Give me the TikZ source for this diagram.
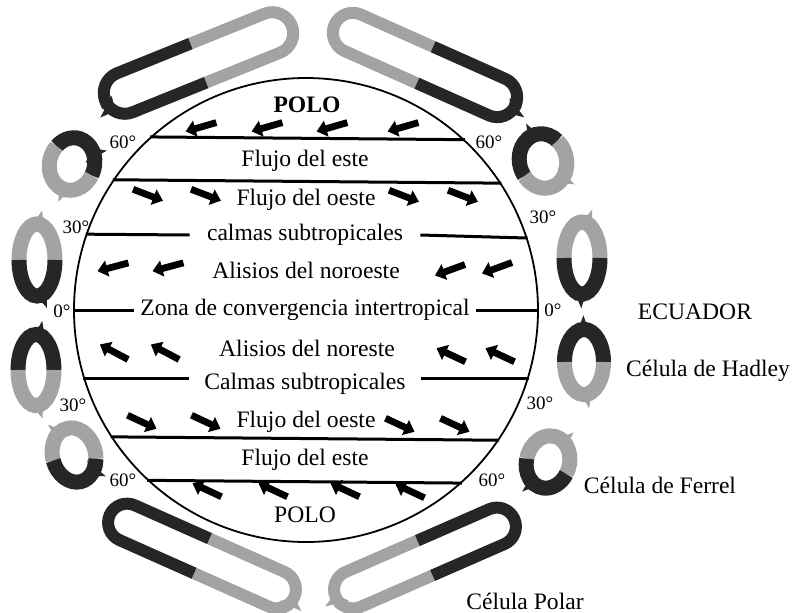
\documentclass[tikz,border=0pt]{standalone}
\usepackage{fontspec}
\setmainfont{Liberation Serif}
\usepackage{xcolor}
\usepackage{tikz}
\usetikzlibrary{arrows.meta}

\definecolor{celldark}{HTML}{262626}
\definecolor{cellgray}{HTML}{A3A3A3}

\newcommand{\ringarc}[5]{%
  \draw[#1, line width=7.5pt] (#4:#2 and #3) arc[start angle=#4, end angle=#5, x radius=#2, y radius=#3];}

\begin{document}
\begin{tikzpicture}[
  x=0.5pt, y=0.5pt,
  globe/.style={draw, circle, line width=0.9pt, minimum size=232pt, inner sep=0pt},
  lat/.style={line width=1.5pt},
  band/.style={font=\fontsize{11.8}{14}\selectfont, inner sep=1.5pt},
  calm/.style={band, inner xsep=8.5pt},
  deg/.style={font=\fontsize{9.5}{11}\selectfont, inner sep=0pt},
  tag/.style={font=\fontsize{11.8}{14}\selectfont, inner sep=0pt},
  wind/.style={line width=3.4pt, -{Triangle[length=5pt, width=8pt]}},
  darkring/.style={draw=celldark, line width=6pt},
  grayring/.style={draw=cellgray, line width=6pt},
  barb/.style={-{Triangle[length=5pt, width=12pt]}}
]
\useasboundingbox (-306,-302) rectangle (487,310);

\node[globe] (earth) at (0,0) {};

\node[band, font=\fontsize{11.8}{14}\selectfont\bfseries] (poleN) at (1,205) {POLO};
\node[band] (eastN) at (-1,149) {Flujo del este};
\node[band] (westN) at (0,110) {Flujo del oeste};
\node[calm] (calmN) at (-1,75) {calmas subtropicales};
\node[band] (tradeN) at (0,40) {Alisios del noroeste};
\node[band, inner xsep=3pt] (itcz) at (-1,0) {Zona de convergencia intertropical};
\node[band] (tradeS) at (1,-38) {Alisios del noreste};
\node[calm, inner xsep=7.5pt] (calmS) at (-1,-74) {Calmas subtropicales};
\node[band] (westS) at (0,-112) {Flujo del oeste};
\node[band] (eastS) at (-1,-150) {Flujo del este};
\node[band] (poleS) at (-1,-205) {POLO};

\draw[lat] (earth.132.5) -- (earth.47.5);
\draw[lat] (earth.146.5) -- (earth.33.5);
\draw[lat] (earth.161.1) -- (calmN.west);
\draw[lat] (calmN.east) -- (earth.18.9);
\draw[lat] (earth.180) -- (itcz.west);
\draw[lat] (itcz.east) -- (earth.0);
\draw[lat] (earth.197) -- (calmS.west |- earth.197);
\draw[lat] (calmS.east |- earth.343) -- (earth.343);
\draw[lat] (earth.213.8) -- (earth.326.2);
\draw[lat] (earth.227.5) -- (earth.312.5);

\foreach \x/\y/\a in {-105/183/196, -39/183/196, 26/183/196, 97/183/196,
    -158/115/-21, -100/115/-21, 98/114/-21, 157/114/-21,
    -193/43/195, -138/43/195, 144/40/200, 191/42/200,
    -192/-42/152, -141/-42/152, 145/-45/155, 194/-45/155,
    -164/-112/-25, -100/-112/-25, 94/-115/-25, 149/-115/-25,
    -99/-180/155, -33/-180/155, 39/-180/155, 104/-181/155}
  \draw[wind] (\x,\y) ++(\a+180:16) -- ++(\a:32);

\node[deg] (d60nw) at (-183,168) {60°};
\node[deg] (d60ne) at (183,168) {60°};
\node[deg] (d30nw) at (-230,83) {30°};
\node[deg] (d30ne) at (237,93) {30°};
\node[deg] (d0w) at (-244,-1) {0°};
\node[deg] (d0e) at (247,0) {0°};
\node[deg] (d30sw) at (-233,-95) {30°};
\node[deg] (d30se) at (234,-93) {30°};
\node[deg] (d60sw) at (-183,-170) {60°};
\node[deg] (d60se) at (186,-170) {60°};

\node[tag] (ecuador) at (389,-2) {ECUADOR};
\node[tag] (hadley) at (402,-61) {Célula de Hadley};
\node[tag] (ferrel) at (354,-175) {Célula de Ferrel};
\node[tag] (polar) at (219,-291) {Célula Polar};

\begin{scope}[shift={(-107.5,247)}, rotate=22]
  \draw[darkring] (0,21) -- (-79.5,21) arc[start angle=90, end angle=270, radius=21] -- (0,-21);
  \draw[grayring] (0,-21) -- (79.5,-21) arc[start angle=-90, end angle=90, radius=21] -- (0,21);
  \draw[darkring, barb] (-79.5,0) ++(170:21) arc[start angle=170, end angle=220, radius=21];
\end{scope}
\begin{scope}[shift={(119,245)}, rotate=-24]
  \draw[grayring] (0,20) -- (-79,20) arc[start angle=90, end angle=270, radius=20] -- (0,-20);
  \draw[darkring] (0,-20) -- (79,-20) arc[start angle=-90, end angle=90, radius=20] -- (0,20);
  \draw[darkring, barb] (79,0) ++(10:20) arc[start angle=10, end angle=-30, radius=20];
\end{scope}
\begin{scope}[shift={(-104,-246)}, rotate=-24]
  \draw[darkring] (0,19) -- (-82,19) arc[start angle=90, end angle=270, radius=19] -- (0,-19);
  \draw[grayring] (0,-19) -- (82,-19) arc[start angle=-90, end angle=90, radius=19] -- (0,19);
  \draw[grayring, barb] (82,0) ++(-45:19) arc[start angle=-45, end angle=0, radius=19];
\end{scope}
\begin{scope}[shift={(119,-248)}, rotate=23.6]
  \draw[grayring] (0,19) -- (-78.5,19) arc[start angle=90, end angle=270, radius=19] -- (0,-19);
  \draw[darkring] (0,-19) -- (78.5,-19) arc[start angle=-90, end angle=90, radius=19] -- (0,19);
  \draw[grayring, barb] (-78.5,0) ++(215:19) arc[start angle=215, end angle=170, radius=19];
\end{scope}

\begin{scope}[shift={(-234,146)}, rotate=-15]
  \ringarc{darkring}{22.5}{26.5}{-13}{150}
  \ringarc{grayring}{22.5}{26.5}{150}{347}
  \ringarc{darkring, barb}{22.5}{26.5}{20}{50}
  \ringarc{grayring, barb}{22.5}{26.5}{250}{280}
\end{scope}
\begin{scope}[shift={(-269,50)}]
  \ringarc{grayring}{18}{36}{0}{180}
  \ringarc{darkring}{18}{36}{180}{360}
  \ringarc{grayring, barb}{18}{36}{100}{70}
  \ringarc{darkring, barb}{18}{36}{300}{270}
\end{scope}
\begin{scope}[shift={(-270,-60)}]
  \ringarc{darkring}{18}{35.5}{0}{180}
  \ringarc{grayring}{18}{35.5}{180}{360}
  \ringarc{darkring, barb}{18}{35.5}{65}{95}
  \ringarc{grayring, barb}{18}{35.5}{262}{292}
\end{scope}
\begin{scope}[shift={(-232,-145)}, rotate=15]
  \ringarc{grayring}{21.5}{27.5}{-20}{180}
  \ringarc{darkring}{21.5}{27.5}{180}{340}
  \ringarc{grayring, barb}{21.5}{27.5}{132}{102}
  \ringarc{darkring, barb}{21.5}{27.5}{328}{298}
\end{scope}

\begin{scope}[shift={(237,149)}, rotate=15]
  \ringarc{darkring}{23.5}{27.5}{35}{201}
  \ringarc{grayring}{23.5}{27.5}{201}{395}
  \ringarc{darkring, barb}{23.5}{27.5}{115}{85}
  \ringarc{grayring, barb}{23.5}{27.5}{325}{295}
\end{scope}
\begin{scope}[shift={(276,52)}]
  \ringarc{grayring}{18}{36}{0}{180}
  \ringarc{darkring}{18}{36}{180}{360}
  \ringarc{grayring, barb}{18}{36}{60}{90}
  \ringarc{darkring, barb}{18}{36}{252}{282}
\end{scope}
\begin{scope}[shift={(278,-52)}]
  \ringarc{darkring}{19.5}{32.5}{0}{180}
  \ringarc{grayring}{19.5}{32.5}{180}{360}
  \ringarc{darkring, barb}{19.5}{32.5}{107}{77}
  \ringarc{grayring, barb}{19.5}{32.5}{293}{263}
\end{scope}
\begin{scope}[shift={(242,-152)}, rotate=-15]
  \ringarc{grayring}{21.5}{26.5}{-15}{185}
  \ringarc{darkring}{21.5}{26.5}{185}{345}
  \ringarc{grayring, barb}{21.5}{26.5}{48}{78}
  \ringarc{darkring, barb}{21.5}{26.5}{228}{258}
\end{scope}
\end{tikzpicture}
\end{document}
